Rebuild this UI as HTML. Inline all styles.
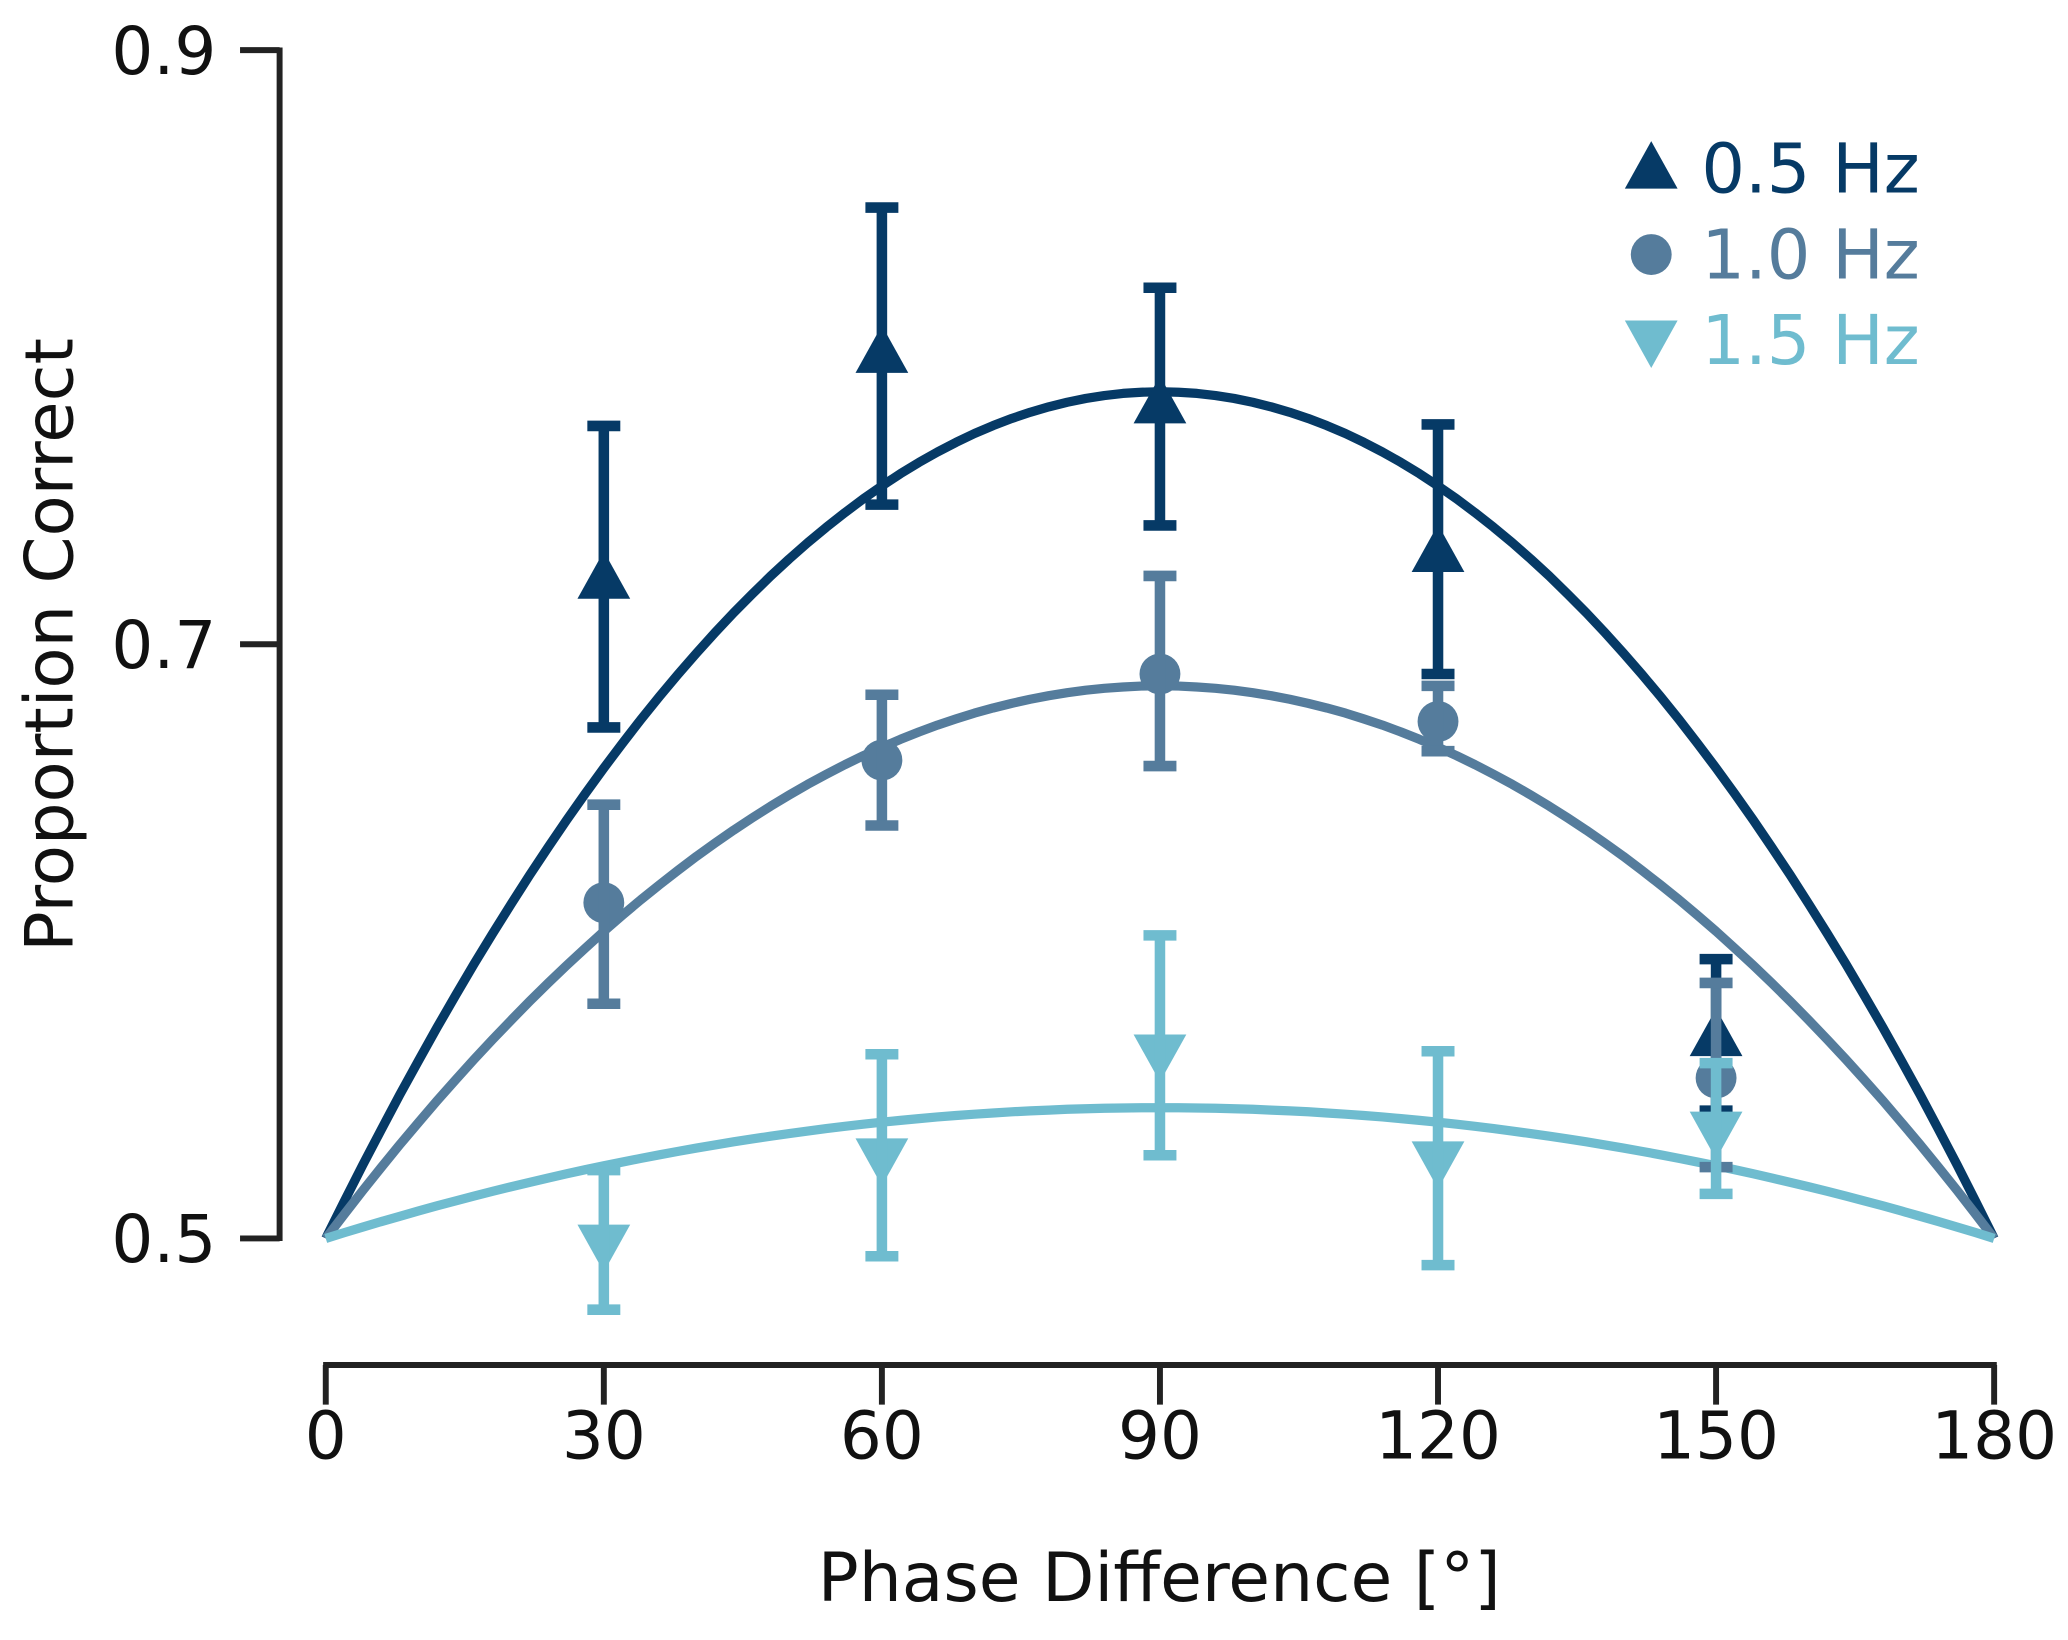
<!DOCTYPE html>
<html><head><meta charset="utf-8"><style>
html,body{margin:0;padding:0;background:#fff}
svg{display:block}
text{font-family:"DejaVu Sans","Liberation Sans",sans-serif}
</style></head><body>
<svg id="chart" width="2068" height="1640" viewBox="0 0 1568 1243.5" preserveAspectRatio="none" xmlns="http://www.w3.org/2000/svg"></svg>
<script>
const xTicks = [0,30,60,90,120,150,180];
const yTicks = [0.5,0.7,0.9];
const yTickLabels = ["0.5","0.7","0.9"];
const phases = [30,60,90,120,150];
const seriesNames = ["0.5 Hz","1.0 Hz","1.5 Hz"];
const fitPeaks = [0.785,0.686,0.544];
const mean05 = [0.722,0.798,0.781,0.731,0.568];
const hi05 = [0.7735,0.847,0.820,0.774,0.594];
const lo05 = [0.672,0.747,0.740,0.690,0.543];
const mean10 = [0.613,0.661,0.690,0.674,0.554];
const hi10 = [0.646,0.683,0.723,0.686,0.586];
const lo10 = [0.579,0.639,0.659,0.664,0.524];
const mean15 = [0.498,0.527,0.562,0.526,0.536];
const hi15 = [0.523,0.562,0.602,0.563,0.559];
const lo15 = [0.476,0.494,0.528,0.491,0.515];

const svg = document.getElementById('chart');
const NS = 'http://www.w3.org/2000/svg';
const X = d => 247 + (d/180)*(1512-247);
const Y = v => 939 - (v-0.5)/0.4*(939-38);
const colors = ['#063a66','#557c9c','#6fbccf'];
function mk(tag, attrs){const e=document.createElementNS(NS,tag);for(const k in attrs)e.setAttribute(k,attrs[k]);svg.appendChild(e);return e;}

let e = mk('line',{x1:212,y1:36,x2:212,y2:941,stroke:'#222','stroke-width':4.5});


e = mk('line',{x1:245,y1:1035,x2:1514,y2:1035,stroke:'#222','stroke-width':4.5});


yTicks.forEach((t,i)=>{
  let l = mk('line',{x1:182,y1:Y(t),x2:212,y2:Y(t),stroke:'#222','stroke-width':4.5});
  
  
  let tx = mk('text',{x:164,y:Y(t)+18,'text-anchor':'end','font-size':50,fill:'#111'});
  tx.textContent = yTickLabels[i];
  
  
});
xTicks.forEach(t=>{
  let l = mk('line',{x1:X(t),y1:1035,x2:X(t),y2:1065,stroke:'#222','stroke-width':4.5});
  
  
  let tx = mk('text',{x:X(t),y:1106,'text-anchor':'middle','font-size':50,fill:'#111'});
  tx.textContent = String(t);
  
  
});
e = mk('text',{x:879,y:1214,'text-anchor':'middle','font-size':51.5,fill:'#111'});
e.textContent = 'Phase Difference [°]';


e = mk('text',{x:0,y:0,'text-anchor':'middle','font-size':51,fill:'#111',transform:'translate(55,489) rotate(-90)'});
e.textContent = 'Proportion Correct';



fitPeaks.forEach((p,s)=>{
  let pts=[];
  for(let d=0; d<=180; d+=2){const t=d/180;pts.push(X(d).toFixed(1)+','+Y(0.5+(p-0.5)*4*t*(1-t)).toFixed(1));}
  let pl = mk('polyline',{points:pts.join(' '),fill:'none',stroke:colors[s],'stroke-linejoin':'round','stroke-width':7});
  
  
});

function marker(s,cx,cy,name){
  let m;
  if(s===0) m = mk('polygon',{points:`${cx-20},${cy+15} ${cx+20},${cy+15} ${cx},${cy-21}`,fill:colors[s]});
  else if(s===1) m = mk('circle',{cx:cx,cy:cy,r:15.5,fill:colors[s]});
  else m = mk('polygon',{points:`${cx-20},${cy-15} ${cx+20},${cy-15} ${cx},${cy+21}`,fill:colors[s]});
  
  
}
const means=[mean05,mean10,mean15], his=[hi05,hi10,hi15], los=[lo05,lo10,lo15];
for(let s=0;s<3;s++){
  phases.forEach((ph,i)=>{
    const cx=X(ph);
    marker(s,cx,Y(means[s][i]),'point-'+s+'-'+ph);
    let l = mk('line',{x1:cx,y1:Y(his[s][i]),x2:cx,y2:Y(los[s][i]),stroke:colors[s],'stroke-width':8});
    
    
    [his[s][i],los[s][i]].forEach(v=>{
      let c = mk('line',{x1:cx-12.5,y1:Y(v),x2:cx+12.5,y2:Y(v),stroke:colors[s],'stroke-width':8});
      
      
    });
  });
}
seriesNames.forEach((n,s)=>{
  const y=128+65*s;
  marker(s,1252,y,'legend-marker-'+s);
  let t = mk('text',{x:1290,y:y+18,'font-size':52,fill:colors[s]});
  t.textContent=n;
  
  
});
</script>
</body></html>
